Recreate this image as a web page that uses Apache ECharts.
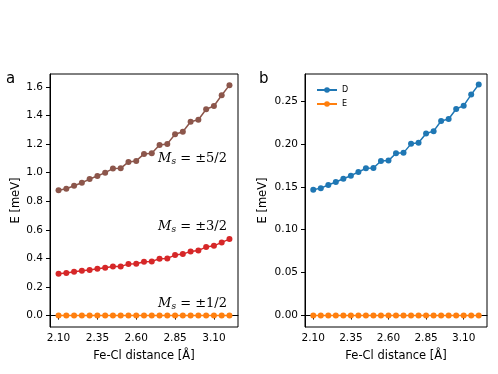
<!DOCTYPE html>
<html>
<head>
<meta charset="utf-8">
<script src="https://cdn.jsdelivr.net/npm/echarts@6/dist/echarts.min.js"></script>
<style>
  html, body { margin: 0; padding: 0; background: #fff; }
  #chart { width: 498px; height: 374px; }
</style>
</head>
<body>
<div id="chart"></div>
<script>
// Fe-Cl distance, 2.10 .. 3.20 step 0.05
var dist = [2.10, 2.15, 2.20, 2.25, 2.30, 2.35, 2.40, 2.45, 2.50, 2.55, 2.60, 2.65,
            2.70, 2.75, 2.80, 2.85, 2.90, 2.95, 3.00, 3.05, 3.10, 3.15, 3.20];
// panel a: energy levels (meV)
var ms52 = [0.876, 0.887, 0.908, 0.929, 0.955, 0.976, 1.000, 1.028, 1.030, 1.075, 1.082, 1.131,
            1.136, 1.194, 1.201, 1.269, 1.286, 1.356, 1.370, 1.443, 1.466, 1.541, 1.612];
var ms32 = [0.293, 0.298, 0.307, 0.314, 0.319, 0.328, 0.335, 0.344, 0.344, 0.360, 0.363, 0.377,
            0.379, 0.398, 0.400, 0.423, 0.430, 0.449, 0.456, 0.479, 0.488, 0.512, 0.535];
var ms12 = [0, 0, 0, 0, 0, 0, 0, 0, 0, 0, 0, 0, 0, 0, 0, 0, 0, 0, 0, 0, 0, 0, 0];
// panel b: D and E (meV)
var dVals = [0.1465, 0.1484, 0.1520, 0.1555, 0.1594, 0.1629, 0.1672, 0.1715, 0.1719, 0.1801, 0.1805, 0.1891,
             0.1895, 0.2000, 0.2012, 0.2121, 0.2148, 0.2266, 0.2289, 0.2406, 0.2445, 0.2574, 0.2691];
var eVals = [0, 0, 0, 0, 0, 0, 0, 0, 0, 0, 0, 0, 0, 0, 0, 0, 0, 0, 0, 0, 0, 0, 0];
// ticks
var xTicks = [2.10, 2.35, 2.60, 2.85, 3.10];
var yTicksA = [0.0, 0.2, 0.4, 0.6, 0.8, 1.0, 1.2, 1.4, 1.6];
var yTicksB = [0.00, 0.05, 0.10, 0.15, 0.20, 0.25];

var FONT = 'DejaVu Sans';

function pairs(ys) {
    var out = [];
    for (var i = 0; i < dist.length; i++) {
        out.push([dist[i], ys[i]]);
    }
    return out;
}

function xAxisOf(idx) {
    return {
        type: 'value', gridIndex: idx, min: 2.045, max: 3.255,
        name: 'Fe-Cl distance [Å]', nameLocation: 'middle', nameGap: 23,
        nameTextStyle: { fontFamily: FONT, fontSize: 11.5, color: '#000' },
        axisLine: { show: true, lineStyle: { color: '#000', width: 1 } },
        axisTick: { show: true, inside: false, length: 4, customValues: xTicks, lineStyle: { color: '#000' } },
        axisLabel: { customValues: xTicks, fontFamily: FONT, fontSize: 10.5, color: '#000', margin: 6,
            formatter: function (v) { return v.toFixed(2); } },
        splitLine: { show: false }
    };
}

function yAxisOf(idx, min, max, ticks, dec) {
    return {
        type: 'value', gridIndex: idx, min: min, max: max,
        name: 'E [meV]', nameLocation: 'middle', nameGap: dec == 1 ? 28 : 36,
        nameTextStyle: { fontFamily: FONT, fontSize: 11.5, color: '#000' },
        axisLine: { show: true, lineStyle: { color: '#000', width: 1 } },
        axisTick: { show: true, inside: false, length: 4, customValues: ticks, lineStyle: { color: '#000' } },
        axisLabel: { customValues: ticks, fontFamily: FONT, fontSize: 10.5, color: '#000', margin: 7,
            formatter: function (v) { return v.toFixed(dec); } },
        splitLine: { show: false }
    };
}

function lineSeries(name, color, ys, idx) {
    return {
        name: name, type: 'line', xAxisIndex: idx, yAxisIndex: idx,
        data: pairs(ys), symbol: 'circle', symbolSize: 6, showSymbol: true,
        itemStyle: { color: color }, lineStyle: { color: color, width: 1.5 },
        animation: false
    };
}

var mathRich = {
    i: { fontFamily: 'DejaVu Serif', fontStyle: 'italic', fontSize: 13, color: '#000' },
    s: { fontFamily: 'DejaVu Serif', fontStyle: 'italic', fontSize: 9, color: '#000', verticalAlign: 'bottom', padding: [6, 0, 0, 0] },
    n: { fontFamily: 'DejaVu Serif', fontSize: 13, color: '#000' }
};

function msLabel(frac, y) {
    return {
        type: 'text', right: 271, top: y,
        style: { text: '{i|M}{s|s}{n| = ±' + frac + '}', rich: mathRich }
    };
}

var myChart = echarts.init(document.getElementById('chart'));

var option = {
    backgroundColor: '#fff',
    animation: false,
    grid: [
        { left: 50, top: 74, width: 188, height: 253, show: true, borderColor: '#000', borderWidth: 1 },
        { left: 305, top: 74, width: 182, height: 253, show: true, borderColor: '#000', borderWidth: 1 }
    ],
    xAxis: [xAxisOf(0), xAxisOf(1)],
    yAxis: [
        yAxisOf(0, -0.08, 1.69, yTicksA, 1),
        yAxisOf(1, -0.0134, 0.2814, yTicksB, 2)
    ],
    legend: {
        data: ['D', 'E'], orient: 'vertical', left: 311, top: 81,
        itemWidth: 20, itemHeight: 7, itemGap: 6,
        textStyle: { fontFamily: FONT, fontSize: 8, color: '#000' }
    },
    graphic: [
        { type: 'text', left: 6, top: 72, style: { text: 'a', fontFamily: FONT, fontSize: 15, fill: '#000' } },
        { type: 'text', left: 259, top: 72, style: { text: 'b', fontFamily: FONT, fontSize: 15, fill: '#000' } },
        msLabel('5/2', 152),
        msLabel('3/2', 220),
        msLabel('1/2', 297)
    ],
    series: [
        lineSeries('ms12', '#ff7f0e', ms12, 0),
        lineSeries('ms32', '#d62728', ms32, 0),
        lineSeries('ms52', '#8c564b', ms52, 0),
        lineSeries('D', '#1f77b4', dVals, 1),
        lineSeries('E', '#ff7f0e', eVals, 1)
    ]
};

myChart.setOption(option);
</script>
</body>
</html>
